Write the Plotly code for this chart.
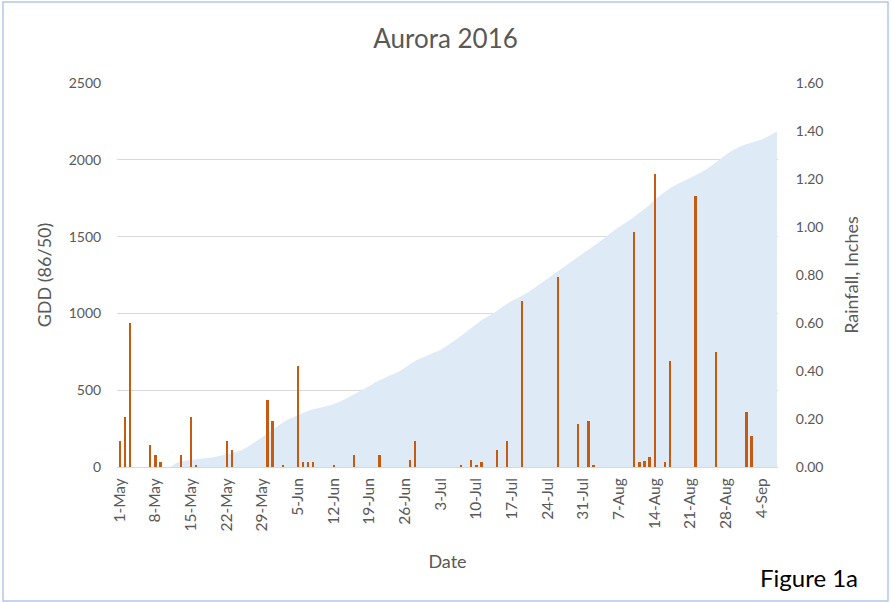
import pandas as pd
import plotly.graph_objects as go

# Cumulative GDD (86/50), daily from 1-May-2016
gdd = [0, 0, 0, 0, 0, 0, 0, 0, 0, 0,
       0, 25, 38, 42, 47, 50, 54, 58, 62, 68,
       74, 82, 90, 98, 110, 128, 150, 170, 195, 220,
       245, 268, 290, 310, 325, 340, 355, 366, 376, 383,
       390, 398, 410, 422, 438, 455, 472, 490, 508, 528,
       548, 565, 580, 595, 608, 625, 648, 670, 692, 707,
       720, 734, 748, 763, 785, 805, 830, 855, 880, 905,
       932, 955, 975, 993, 1015, 1040, 1062, 1082, 1098, 1115,
       1135, 1158, 1180, 1205, 1228, 1252, 1275, 1298, 1320, 1345,
       1370, 1392, 1415, 1440, 1462, 1488, 1515, 1540, 1562, 1582,
       1605, 1630, 1655, 1680, 1705, 1742, 1768, 1790, 1815, 1835,
       1850, 1868, 1885, 1900, 1918, 1935, 1958, 1985, 2008, 2033,
       2055, 2075, 2090, 2102, 2112, 2120, 2132, 2148, 2165, 2185]
gdd_dates = pd.date_range("2016-05-01", periods=len(gdd), freq="D")

# Daily rainfall (inches)
rain_dates = ["2016-05-01", "2016-05-02", "2016-05-03", "2016-05-07", "2016-05-08",
              "2016-05-09", "2016-05-13", "2016-05-15", "2016-05-16", "2016-05-22",
              "2016-05-23", "2016-05-30", "2016-05-31", "2016-06-02", "2016-06-05",
              "2016-06-06", "2016-06-07", "2016-06-08", "2016-06-12", "2016-06-16",
              "2016-06-21", "2016-06-27", "2016-06-28", "2016-07-07", "2016-07-09",
              "2016-07-10", "2016-07-11", "2016-07-14", "2016-07-16", "2016-07-19",
              "2016-07-26", "2016-07-30", "2016-08-01", "2016-08-02", "2016-08-10",
              "2016-08-11", "2016-08-12", "2016-08-13", "2016-08-14", "2016-08-16",
              "2016-08-17", "2016-08-22", "2016-08-26", "2016-09-01", "2016-09-02"]
rain = [0.11, 0.21, 0.60, 0.09, 0.05,
        0.02, 0.05, 0.21, 0.01, 0.11,
        0.07, 0.28, 0.19, 0.01, 0.42,
        0.02, 0.02, 0.02, 0.01, 0.05,
        0.05, 0.03, 0.11, 0.01, 0.03,
        0.01, 0.02, 0.07, 0.11, 0.69,
        0.79, 0.18, 0.19, 0.01, 0.98,
        0.02, 0.025, 0.04, 1.22, 0.02,
        0.44, 1.13, 0.48, 0.23, 0.13]

TXT = "#595959"
FONT = "Lato"

fig = go.Figure()
fig.add_trace(go.Scatter(
    x=gdd_dates, y=gdd, mode="lines", line=dict(width=0, color="#DEEBF7"),
    fill="tozeroy", fillcolor="#DEEBF7", name="GDD", yaxis="y", showlegend=False))
fig.add_trace(go.Bar(
    x=pd.to_datetime(rain_dates), y=rain, name="Rainfall", yaxis="y2",
    marker=dict(color="#C55A11", line=dict(width=0)),
    width=0.45 * 86400000, showlegend=False))

fig.update_layout(
    width=891, height=602,
    margin=dict(l=117, r=113, t=83, b=135),
    paper_bgcolor="white", plot_bgcolor="white",
    font=dict(family=FONT, size=14, color=TXT),
    title=dict(text="Aurora 2016", x=0.5, xanchor="center", y=0.935, yanchor="middle",
               font=dict(size=26, color=TXT, family=FONT)),
    xaxis=dict(
        type="date",
        range=["2016-04-30T11:00", "2016-09-07T05:00"],
        tick0="2016-05-01", dtick=7 * 86400000, tickformat="%-d-%b",
        tickangle=-90, showgrid=False, showline=True, linecolor="#D9D9D9", linewidth=1,
        ticks="outside", ticklen=4, tickcolor="rgba(0,0,0,0)",
        tickfont=dict(size=15.5, color=TXT),
        title=dict(text="Date", standoff=24, font=dict(size=18, color=TXT)),
        zeroline=False),
    yaxis=dict(
        range=[0, 2500], dtick=500, showgrid=True, gridcolor="#D9D9D9", gridwidth=1,
        zeroline=False, showline=False,
        ticks="outside", ticklen=12, tickcolor="rgba(0,0,0,0)",
        tickfont=dict(size=14, color=TXT),
        title=dict(text="GDD (86/50)", standoff=12, font=dict(size=18, color=TXT))),
    yaxis2=dict(
        range=[0, 1.6], dtick=0.2, tickformat=".2f", overlaying="y", side="right",
        showgrid=False, zeroline=False, showline=False,
        ticks="outside", ticklen=14, tickcolor="rgba(0,0,0,0)",
        tickfont=dict(size=14, color=TXT),
        title=dict(text="Rainfall, Inches", standoff=22, font=dict(size=18, color=TXT))),
    bargap=0,
)

# Chart border
fig.add_shape(type="rect", xref="paper", yref="paper",
              x0=(3 - 117) / 661, x1=(888 - 117) / 661,
              y0=(467 - 601) / 384, y1=(467 - 2) / 384,
              line=dict(color="#B4C7E7", width=1.5), fillcolor="rgba(0,0,0,0)", layer="below")

fig.add_annotation(text="Figure 1a", xref="paper", yref="paper",
                   x=(809 - 117) / 661, y=(467 - 577) / 384, showarrow=False,
                   xanchor="center", yanchor="middle",
                   font=dict(size=24, color="black", family=FONT))

fig.write_html("out.html", config={"displayModeBar": False},
               post_script="document.body.style.margin='0px';document.body.style.overflow='hidden';")
